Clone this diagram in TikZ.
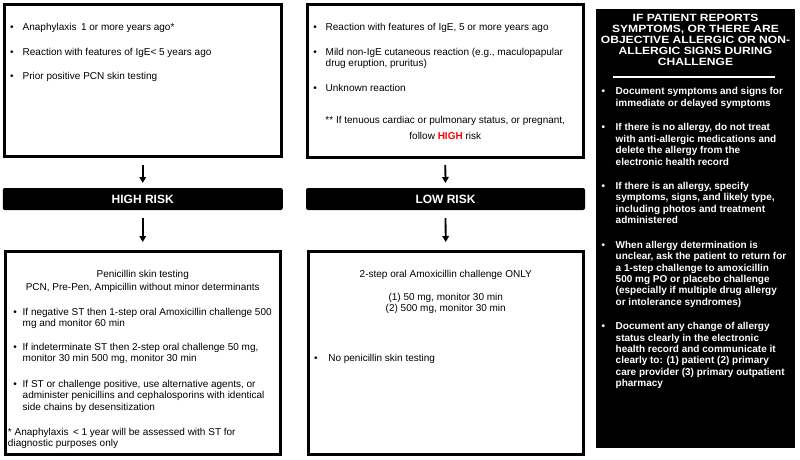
\documentclass[tikz,border=0pt]{standalone}
\usepackage{fontspec}
\setmainfont{Liberation Sans}
\newfontfamily\titlefont[FakeStretch=1.15]{Liberation Sans}
\usetikzlibrary{arrows.meta}
\newcommand{\blist}[2]{\makebox[#1][l]{\textbullet}\begin{tabular}[t]{@{}l@{}}#2\end{tabular}}
\newcommand{\clines}[1]{\begin{tabular}[t]{@{}c@{}}#1\end{tabular}}
\newcommand{\llines}[1]{\begin{tabular}[t]{@{}l@{}}#1\end{tabular}}
\tikzset{
  box/.style={draw=black, line width=3pt, rectangle, inner sep=0pt},
  riskbar/.style={fill=black, rounded corners=2pt, inner sep=0pt, text=white,
     font=\bfseries\fontsize{12}{13}\selectfont, minimum height=22pt},
  sidebox/.style={fill=black, inner sep=0pt},
  txt/.style={inner sep=0pt, outer sep=0pt, anchor=north west, font=\fontsize{10}{11.6}\selectfont},
  ctxt/.style={txt, anchor=north},
  wtxt/.style={inner sep=0pt, outer sep=0pt, anchor=north west, text=white, font=\bfseries\fontsize{10}{11.4}\selectfont},
  flow/.style={line width=1.8pt, -{Triangle[length=6pt,width=6.5pt]}}
}
\begin{document}
\begin{tikzpicture}[x=1pt,y=-1pt]
\useasboundingbox[fill=white] (0,0) rectangle (800,460);

% boxes
\node[box, minimum width=276.5pt, minimum height=151.5pt] (tl) at (142.75,80.25) {};
\node[box, minimum width=275.5pt, minimum height=152pt] (tm) at (445.25,81) {};
\node[box, minimum width=275.5pt, minimum height=203pt] (bl) at (142.75,352.5) {};
\node[box, minimum width=274.5pt, minimum height=203pt] (bm) at (445.75,352.5) {};
\node[riskbar, minimum width=280pt] (high) at (142.75,199) {HIGH RISK};
\node[riskbar, minimum width=279pt] (low) at (445.5,199) {LOW RISK};
\node[sidebox, minimum width=199pt, minimum height=439pt] (side) at (695.5,228.5) {};

% arrows
\draw[flow, shorten <=7.5pt, shorten >=4.8pt] (tl.south) -- (high.north);
\draw[flow, shorten <=7.8pt, shorten >=7.5pt] (high.south) -- (bl.north);
\draw[flow, shorten <=6.5pt, shorten >=4.8pt] (tm.south) -- (low.north);
\draw[flow, shorten <=7.8pt, shorten >=7.5pt] (low.south) -- (bm.north);

% top-left text
\node[txt] (tl1) at (10,21.9) {\blist{12.7pt}{Anaphylaxis\, 1 or more years ago*}};
\node[txt] (tl2) at (10,46.9) {\blist{12.7pt}{Reaction with features of IgE< 5 years ago}};
\node[txt] (tl3) at (10,70.9) {\blist{12.7pt}{Prior positive PCN skin testing}};

% top-middle text
\node[txt] (tm1) at (313.3,21.9) {\blist{12.4pt}{Reaction with features of IgE, 5 or more years ago}};
\node[txt] (tm2) at (313.3,46.9) {\blist{12.4pt}{Mild non-IgE cutaneous reaction (e.g., maculopapular\\drug eruption, pruritus)}};
\node[txt] (tm3) at (313.3,82.9) {\blist{12.4pt}{Unknown reaction}};
\node[ctxt] (tm4) at (445.25,114.9) {\clines{** If tenuous cardiac or pulmonary status, or pregnant,\\[5pt]follow {\bfseries\color{red}HIGH} risk}};

% bottom-left text
\node[ctxt] (bl0) at (142.75,268.9) {\clines{Penicillin skin testing\\[1.4pt]PCN, Pre-Pen, Ampicillin without minor determinants}};
\node[txt] (bl1) at (13.3,306.9) {\blist{9.4pt}{If negative ST then 1-step oral Amoxicillin challenge 500\\mg and monitor 60 min}};
\node[txt] (bl2) at (13.3,341.9) {\blist{9.4pt}{If indeterminate ST then 2-step oral challenge 50 mg,\\monitor 30 min 500 mg, monitor 30 min}};
\node[txt] (bl3) at (13.3,378.9) {\blist{9.4pt}{If ST or challenge positive, use alternative agents, or\\administer penicillins and cephalosporins with identical\\side chains by desensitization}};
\node[txt] (bl4) at (8,426.9) {\llines{* Anaphylaxis\, < 1 year will be assessed with ST for\\diagnostic purposes only}};

% bottom-middle text
\node[ctxt] (bm0) at (445.75,268.9) {\clines{2-step oral Amoxicillin challenge ONLY\\[11.4pt](1) 50 mg, monitor 30 min\\(2) 500 mg, monitor 30 min}};
\node[txt] (bm1) at (314,352.9) {\blist{14.3pt}{No penicillin skin testing}};

% right side
\node[inner sep=0pt, anchor=north, align=center, text=white, font=\titlefont\bfseries\fontsize{10.5}{10.9}\selectfont] (title) at (695.5,14.2)
  {IF PATIENT REPORTS\\SYMPTOMS, OR THERE ARE\\OBJECTIVE ALLERGIC OR NON-\\ALLERGIC SIGNS DURING\\CHALLENGE};
\coordinate (ruleL) at (613,77);
\coordinate (ruleR) at (775,77);
\draw[white, line width=1.2pt] (ruleL) -- (ruleR);
\node[wtxt] (r1) at (601.5,87) {\blist{14.2pt}{Document symptoms and signs for\\immediate or delayed symptoms}};
\node[wtxt] (r2) at (601.5,122.9) {\blist{14.2pt}{If there is no allergy, do not treat\\with anti-allergic medications and\\delete the allergy from the\\electronic health record}};
\node[wtxt] (r3) at (601.5,181.6) {\blist{14.2pt}{If there is an allergy, specify\\symptoms, signs, and likely type,\\including photos and treatment\\administered}};
\node[wtxt] (r4) at (601.5,240.3) {\blist{14.2pt}{When allergy determination is\\unclear, ask the patient to return for\\a 1-step challenge to amoxicillin\\500 mg PO or placebo challenge\\(especially if multiple drug allergy\\or intolerance syndromes)}};
\node[wtxt] (r5) at (601.5,321.8) {\blist{14.2pt}{Document any change of allergy\\status clearly in the electronic\\health record and communicate it\\clearly to: (1) patient (2) primary\\care provider (3) primary outpatient\\pharmacy}};
\end{tikzpicture}
\end{document}
